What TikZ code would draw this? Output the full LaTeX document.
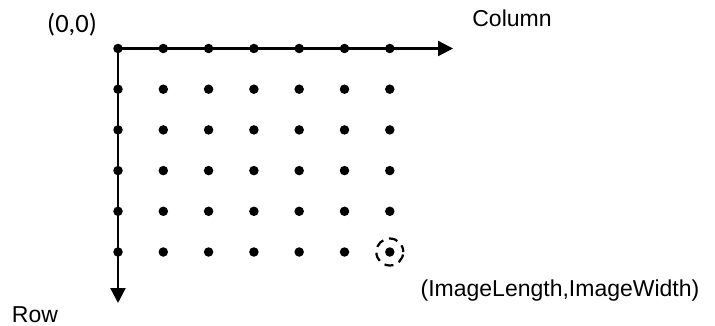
\documentclass[tikz,border=0pt]{standalone}
\usepackage{fontspec}
\setmainfont{Liberation Sans}
\newfontfamily\calfont{Carlito}
\usetikzlibrary{arrows.meta}
\begin{document}
\begin{tikzpicture}[x=1pt,y=-1pt,
  dotmark/.style={circle,fill=black,inner sep=0pt,minimum size=9.5pt},
  axis/.style={line width=2.4pt,-{Triangle[length=15pt,width=15pt]}},
  lbl/.style={inner sep=0pt,font=\fontsize{23}{27}\selectfont}]
\useasboundingbox (0,0) rectangle (715,326);
\foreach \i in {0,...,6}{
  \foreach \j in {0,...,5}{
    \node[dotmark] (d\i\j) at ({118+45.3*\i},{48.5+40.7*\j}) {};
  }
}
\coordinate (xend) at (453,48.5);
\coordinate (yend) at (118,303);
\draw[axis] (d00.center) -- (xend);
\draw[axis] (d00.center) -- (yend);
\node[draw,circle,line width=2.2pt,minimum size=27pt,inner sep=0pt,dash pattern=on 9pt off 6pt,dash phase=2pt] (sel) at (d65.center) {};
\node[lbl,font=\calfont\fontsize{26.5}{30}\selectfont] (origin) at (72,25) {(0,0)};
\node[lbl] (col) at (512,18) {Column};
\node[lbl,anchor=base] (row) at (35,322) {Row};
\node[lbl] (end) at (560,291) {(ImageLength,ImageWidth)};
\end{tikzpicture}
\end{document}
